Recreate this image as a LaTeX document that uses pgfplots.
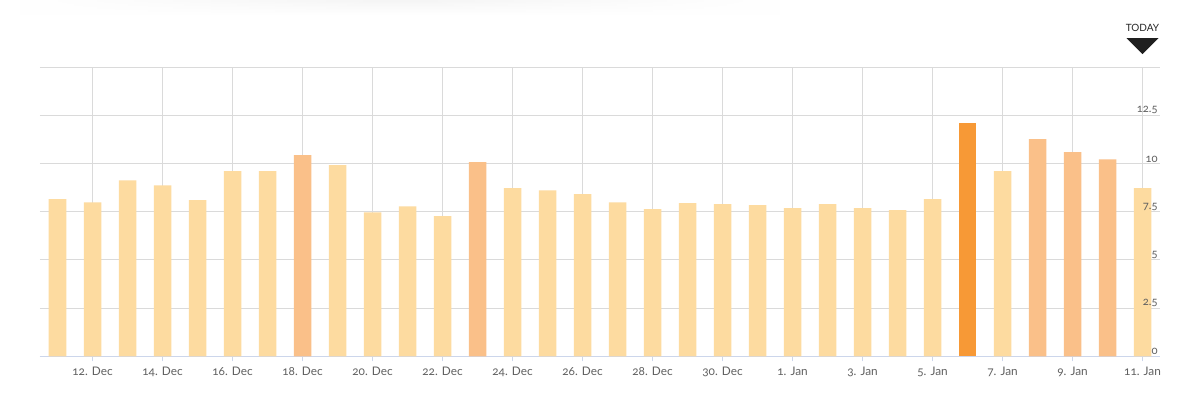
\documentclass[border=0pt]{standalone}
\usepackage{pgfplots}
\pgfplotsset{compat=1.18}
\usepackage{fontspec}
\setmainfont{Lato}[Numbers=OldStyle]
\usetikzlibrary{fadings}
\definecolor{lightbar}{HTML}{FDDBA0}
\definecolor{midbar}{HTML}{FAC089}
\definecolor{darkbar}{HTML}{F79936}
\definecolor{gridc}{HTML}{DADADA}
\definecolor{axisc}{HTML}{CCD6EB}
\definecolor{labc}{HTML}{606060}
\pgfplotsset{
  frame/.style={at={(20pt,18.35pt)}, anchor=south west,
    scale only axis, width=560pt, height=144.6pt,
    xmin=-0.5, xmax=31.5, ymin=0, ymax=15, clip=false},
}
\begin{document}
\begin{tikzpicture}
\fill[white] (0,0) rectangle (598.5pt,196.5pt);
\shade[top color=black!4, bottom color=white, path fading=east] (200pt,189pt) rectangle (390pt,196.5pt);
\shade[top color=black!4, bottom color=white, path fading=west] (10pt,189pt) rectangle (200pt,196.5pt);
\begin{axis}[
  frame,
  axis x line*=bottom, axis y line*=right,
  x axis line style={color=axisc, line width=0.5pt},
  y axis line style={draw=none},
  xtick={1,3,...,31},
  xticklabels={12. Dec,14. Dec,16. Dec,18. Dec,20. Dec,22. Dec,24. Dec,26. Dec,28. Dec,30. Dec,1. Jan,3. Jan,5. Jan,7. Jan,9. Jan,11. Jan},
  ytick={0,2.5,5,7.5,10,12.5,15},
  yticklabels={},
  tick align=outside,
  xtick style={color=axisc, line width=0.5pt},
  ytick style={draw=none},
  major tick length=2.5pt,
  xmajorgrids, ymajorgrids,
  grid style={color=gridc, line width=0.5pt},
  xticklabel style={font=\fontsize{5.9}{6.5}\selectfont, color=labc, anchor=north, inner sep=0pt, yshift=-2.5pt},
]
\addplot[ybar, bar width=0.5, bar shift=0pt, fill=lightbar, draw=none] coordinates {
(0,8.15) (1,7.99) (2,9.13) (3,8.87) (4,8.10) (5,9.60) (6,9.60)
(8,9.91) (9,7.47) (10,7.78) (11,7.27)
(13,8.72) (14,8.61) (15,8.41) (16,7.99) (17,7.63) (18,7.94) (19,7.89) (20,7.84)
(21,7.68) (22,7.89) (23,7.68) (24,7.58) (25,8.15)
(27,9.60) (31,8.72)};
\addplot[ybar, bar width=0.5, bar shift=0pt, fill=midbar, draw=none] coordinates {
(7,10.43) (12,10.07) (28,11.26) (29,10.59) (30,10.22)};
\addplot[ybar, bar width=0.5, bar shift=0pt, fill=darkbar, draw=none] coordinates {
(26,12.09)};
\node[font=\fontsize{5}{5}\selectfont, color=black!85, inner sep=0pt] at ([yshift=19.5pt]axis cs:31,15) {TODAY};
\fill[black!88] ([xshift=-8pt,yshift=14.5pt]axis cs:31,15) -- ([xshift=8pt,yshift=14.5pt]axis cs:31,15) -- ([yshift=6.5pt]axis cs:31,15) -- cycle;
\end{axis}
\begin{axis}[
  frame,
  hide x axis,
  axis y line*=right,
  y axis line style={draw=none},
  ytick={0,2.5,5,7.5,10,12.5},
  yticklabels={0,2.5,5,7.5,10,12.5},
  ytick style={draw=none},
  yticklabel style={font=\fontsize{5.6}{6.5}\selectfont, color=labc, anchor=south east, inner sep=0.5pt, xshift=-0.5pt},
]
\end{axis}
\end{tikzpicture}
\end{document}
